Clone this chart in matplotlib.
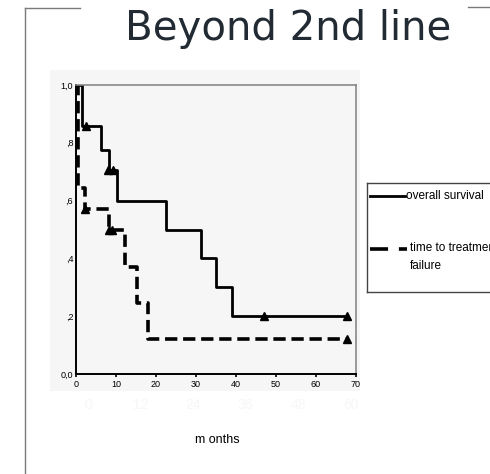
import matplotlib.pyplot as plt
from matplotlib.lines import Line2D
from matplotlib.patches import Rectangle

# Kaplan-Meier steps
os_months = [0, 1.4, 6.2, 8.3, 10.3, 22.4, 31.2, 34.9, 39.1, 67.8]
os_surv = [1.0, 0.857, 0.775, 0.705, 0.60, 0.50, 0.40, 0.30, 0.20, 0.20]
os_cens_months = [2.4, 8.1, 9.3, 47.0, 67.8]
os_cens_surv = [0.857, 0.705, 0.705, 0.20, 0.20]

ttf_months = [0, 0.4, 2.2, 8.3, 12.2, 15.2, 18.1, 67.8]
ttf_surv = [1.0, 0.643, 0.571, 0.50, 0.37, 0.245, 0.12, 0.12]
ttf_cens_months = [2.3, 8.3, 9.1, 67.8]
ttf_cens_surv = [0.571, 0.50, 0.50, 0.12]

x_ticks = [0, 10, 20, 30, 40, 50, 60, 70]
y_ticks = [0.0, 0.2, 0.4, 0.6, 0.8, 1.0]
y_labels = ["0,0", ",2", ",4", ",6", ",8", "1,0"]
ghost_labels = ["0", "12", "24", "36", "48", "60"]

W, H = 490, 474
fig = plt.figure(figsize=(W / 100, H / 100), dpi=100)
narrow = ["Liberation Sans", "DejaVu Sans"]


def fx(px):
    return px / W


def fy(py):
    return 1 - py / H


# slide frame lines
fig.add_artist(Line2D([fx(25), fx(25)], [fy(8), fy(474)], color="#7a7a7a", lw=1))
fig.add_artist(Line2D([fx(25), fx(80)], [fy(8), fy(8)], color="#7a7a7a", lw=1))
fig.add_artist(Line2D([fx(468), fx(490)], [fy(7), fy(7)], color="#7a7a7a", lw=1))

fig.text(fx(288), fy(29), "Beyond 2nd line", ha="center", va="center",
         fontsize=29, family="DejaVu Sans", color="#222b33")

# embedded image background
fig.add_artist(Rectangle((fx(50), fy(391)), fx(310), 321 / H,
                         facecolor="#f6f6f6", edgecolor="none", zorder=0))

ax = fig.add_axes([fx(76), fy(374), 280 / W, 289 / H])
ax.set_facecolor("#f6f6f6")
ax.step(os_months, os_surv, where="post", color="black", lw=2)
ax.step(ttf_months, ttf_surv, where="post", color="black", lw=2.6,
        dashes=(3.4, 1.6))
ax.plot(os_cens_months, os_cens_surv, "^", color="black", ms=6, clip_on=False)
ax.plot(ttf_cens_months, ttf_cens_surv, "^", color="black", ms=6, clip_on=False)

ax.set_xlim(0, 70)
ax.set_ylim(0, 1)
ax.set_xticks(x_ticks)
ax.set_xticklabels([str(t) for t in x_ticks], family=narrow, fontsize=6.5)
ax.set_yticks(y_ticks)
ax.set_yticklabels(y_labels, family=narrow, fontsize=6.5)
ax.tick_params(axis="x", length=2, width=1.2, pad=2)
ax.tick_params(axis="y", length=0, pad=2)
for side in ["top", "right"]:
    ax.spines[side].set_color("#888888")
    ax.spines[side].set_linewidth(1.2)
for side in ["left", "bottom"]:
    ax.spines[side].set_color("black")
    ax.spines[side].set_linewidth(1.4)

# faint labels left over in the pasted image
for i, lab in enumerate(ghost_labels):
    fig.text(fx(88 + i * 52.5), fy(405), lab, ha="center", va="center",
             fontsize=10, family=narrow, color="#f7f7f7")

fig.text(fx(217), fy(440), "m onths", ha="center", va="center",
         fontsize=9, family=narrow, color="black")

# legend box, cut off at the right edge as in the source
lg = fig.add_axes([fx(367), fy(292), 140 / W, 109 / H])
lg.set_xlim(367, 507)
lg.set_ylim(292, 183)
lg.set_xticks([])
lg.set_yticks([])
lg.set_facecolor("white")
for s in lg.spines.values():
    s.set_color("#444444")
    s.set_linewidth(1)
lg.plot([370, 405], [196, 196], color="black", lw=2)
lg.plot([370, 407], [249, 249], color="black", lw=2.6, dashes=(5, 3))
lg.text(406, 196, "overall survival", va="center", fontsize=8.5,
        family=narrow)
lg.text(410, 248, "time to treatment", va="center", fontsize=8.5,
        family=narrow)
lg.text(410, 266, "failure", va="center", fontsize=8.5, family=narrow)

fig.savefig("out.png", dpi=100)
